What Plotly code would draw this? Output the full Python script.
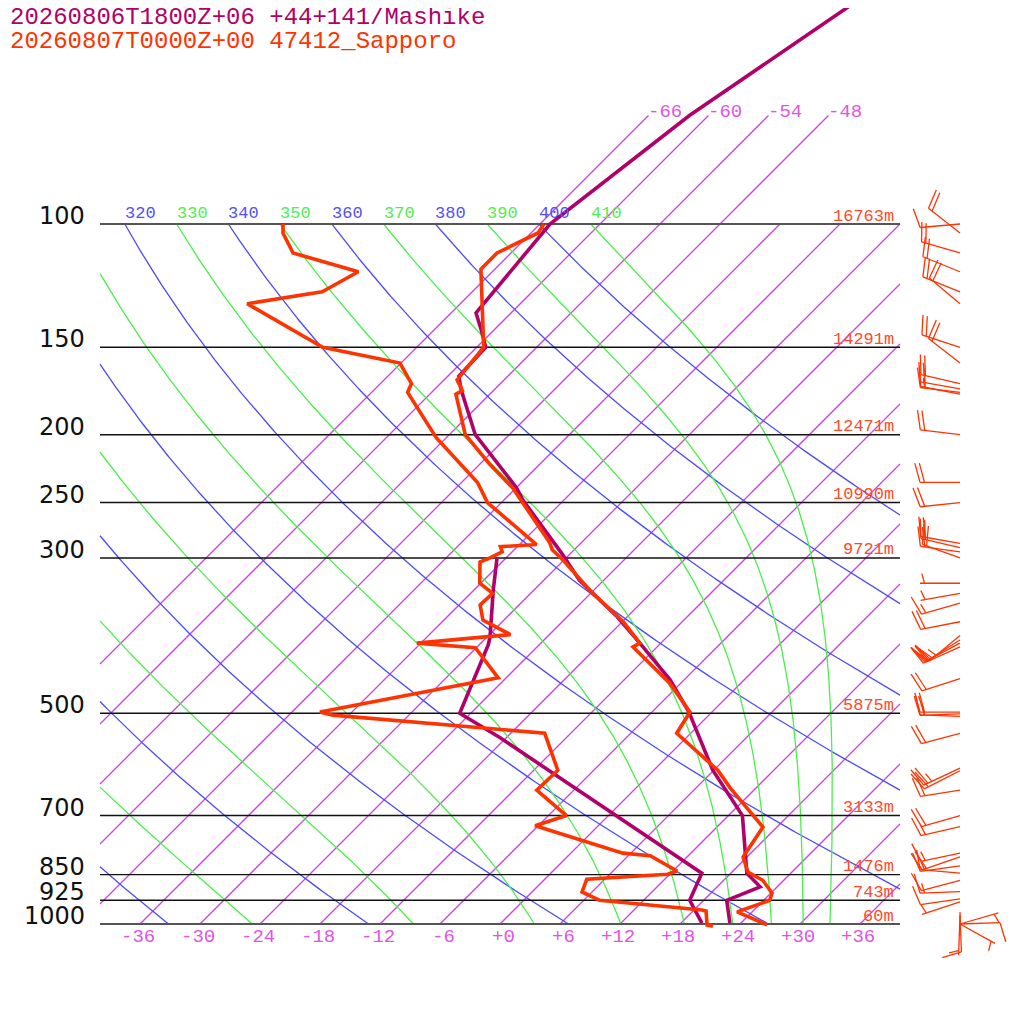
import numpy as np
import plotly.graph_objects as go

levels = [100, 150, 200, 250, 300, 500, 700, 850, 925, 1000]
level_labels = ["100", "150", "200", "250", "300", "500", "700", "850", "925", "1000"]
level_heights = ["16763m", "14291m", "12471m", "10990m", "9721m", "5875m", "3133m", "1476m", "743m", "60m"]

# Mashike forecast (+06)
mashike_p = [45, 70, 100, 134, 142, 150, 165, 173, 200, 238, 248, 296, 323, 337, 364, 397, 448, 498, 603, 700, 846, 885, 925, 997]
mashike_t = [-55.7, -61.9, -65.0, -63.5, -61.2, -59.1, -58.9, -57.2, -51.4, -42.0, -40.1, -30.8, -26.4, -23.8, -19.0, -14.1, -7.4, -2.3, 5.9, 13.4, 19.6, 22.3, 20.3, 22.9]
mashike_td_p = [300, 333, 389, 399, 500, 542, 846, 925, 997]
mashike_td = [-36.9, -34.1, -29.7, -29.1, -25.1, -18.6, 15.1, 16.6, 20.1]

# Sapporo 47412 observed
sapporo_p = [100, 103, 110, 116, 150, 167, 173, 175, 200, 220, 238, 250, 285, 292, 302, 337, 370, 397, 402, 453, 498, 534, 603, 639, 727, 802, 843, 866, 903, 925, 961, 1003]
sapporo_t = [-65.6, -65.3, -67.4, -67.4, -59.3, -58.7, -57.1, -57.4, -52.4, -47.1, -42.4, -39.9, -33.2, -32.2, -30.1, -23.8, -17.9, -14.1, -14.4, -7.1, -2.2, -1.4, 6.4, 9.4, 16.6, 17.6, 19.6, 21.9, 24.1, 24.6, 22.5, 26.8]
sapporo_td_p = [100, 103, 110, 117, 125, 130, 150, 158, 169, 174, 202, 234, 250, 287, 289, 294, 300, 304, 326, 337, 350, 368, 386, 397, 403, 445, 498, 503, 534, 603, 644, 700, 724, 792, 799, 840, 849, 863, 900, 925, 955, 958, 1003, 1007]
sapporo_td = [-91.7, -90.8, -87.8, -79.4, -81.0, -87.3, -75.4, -66.1, -62.9, -62.4, -55.0, -46.4, -43.4, -34.3, -37.7, -37.0, -37.6, -38.2, -36.1, -33.8, -33.9, -32.1, -27.9, -36.4, -30.1, -24.8, -39.2, -37.6, -14.6, -9.6, -9.7, -4.2, -6.3, 5.2, 8.2, 12.4, 11.8, 4.2, 5.0, 7.6, 18.8, 19.3, 20.8, 21.5]

# Sapporo winds (hPa, deg, kt)
wind_p = [100, 103, 110, 117, 125, 130, 150, 158, 169, 172, 174, 175, 200, 234, 250, 286, 290, 294, 300,
          326, 337, 348, 370, 387, 393, 397, 402, 446, 498, 501, 505, 534, 599, 604, 644, 700, 726,
          792, 802, 826, 846, 866, 899, 921, 930, 961, 971, 1000, 1000, 1000]
wind_dir = [265, 308, 286, 292, 292, 310, 288, 308, 283, 280, 277, 281, 277, 270, 264, 280, 283, 278, 290,
            270, 260, 254, 259, 230, 238, 242, 246, 252, 270, 268, 272, 255, 245, 243, 261, 254, 257,
            258, 251, 262, 275, 255, 268, 262, 252, 178, 182, 74, 88, 119]
wind_spd = [10, 20, 20, 20, 20, 20, 20, 20, 20, 20, 15, 20, 20, 20, 20, 20, 20, 20, 20,
            5, 5, 15, 20, 25, 20, 20, 20, 20, 20, 20, 15, 20, 25, 20, 20, 20, 15,
            15, 20, 15, 10, 10, 15, 10, 5, 10, 5, 5, 10, 5]

# diagram reference lines
isotherms = list(range(-66, 37, 6))
dry_thetas = list(range(240, 401, 20))
moist_thetas = list(range(250, 411, 20))

title1 = "20260806T1800Z+06 +44+141/Mashike"
title2 = "20260807T0000Z+00 47412_Sapporo"

MASHIKE = "#b0006a"
SAPPORO = "#ff3300"
ISO_COL = "#cc44e0"
DRY_COL = "#4a4aff"
MOIST_COL = "#48f048"
SKEW = 70.0          # deg C per decade of pressure (45 degree isotherms)
XMIN, XMAX = -40, 40
KAPPA = 0.286
OFF = 8              # page margin of the html body, in px


def skew_x(t, p):
    return np.asarray(t, float) + SKEW * np.log10(1000.0 / np.asarray(p, float))


def clip_poly(xs, ps, lo=XMIN, hi=XMAX):
    lp = np.log10(ps)
    ox, op = [], []
    last = None
    for i in range(len(xs) - 1):
        x0, x1, l0, l1 = xs[i], xs[i + 1], lp[i], lp[i + 1]
        t0, t1 = 0.0, 1.0
        dx = x1 - x0
        if dx == 0:
            if x0 < lo or x0 > hi:
                continue
        else:
            ta, tb = (lo - x0) / dx, (hi - x0) / dx
            t0, t1 = max(t0, min(ta, tb)), min(t1, max(ta, tb))
            if t0 >= t1:
                continue
        a = (float(x0 + t0 * dx), float(10 ** (l0 + t0 * (l1 - l0))))
        b = (float(x0 + t1 * dx), float(10 ** (l0 + t1 * (l1 - l0))))
        if last is None or abs(last[0] - a[0]) > 1e-9 or abs(last[1] - a[1]) > 1e-9:
            if ox:
                ox.append(None)
                op.append(None)
            ox.append(a[0])
            op.append(a[1])
        ox.append(b[0])
        op.append(b[1])
        last = b
    return ox, op


def moist_lapse(theta, p_levels):
    # integrate a pseudo-adiabat down from 100 hPa
    Rd, Cp, Lv, eps = 287.04, 1005.7, 2.501e6, 0.622

    def dtdp(p, T):
        es = 6.112 * np.exp(17.67 * (T - 273.15) / (T - 29.65))
        rs = eps * es / (p - es)
        return (Rd * T + Lv * rs) / (Cp + Lv * Lv * rs * eps / (Rd * T * T)) / p

    T = theta * (p_levels[0] / 1000.0) ** KAPPA
    out = [T]
    for p0, p1 in zip(p_levels[:-1], p_levels[1:]):
        h = p1 - p0
        k1 = dtdp(p0, T)
        k2 = dtdp(p0 + h / 2, T + h * k1 / 2)
        k3 = dtdp(p0 + h / 2, T + h * k2 / 2)
        k4 = dtdp(p1, T + h * k3)
        T = T + h * (k1 + 2 * k2 + 2 * k3 + k4) / 6
        out.append(T)
    return np.array(out) - 273.15


fig = go.Figure()

def add_line(xs, ps, color, width):
    fig.add_trace(go.Scatter(x=list(xs), y=list(ps), mode="lines", hoverinfo="skip",
                             line=dict(color=color, width=width)))

# isotherms
for t in isotherms:
    ptop = 70 if t <= -48 else 100
    pp = np.array([1000.0, ptop])
    xs, ps = clip_poly(skew_x([t, t], pp), pp)
    add_line(xs, ps, ISO_COL, 1.3)

# dry adiabats
pgrid = np.logspace(3, 2, 300)
for th in dry_thetas:
    tt = th * (pgrid / 1000.0) ** KAPPA - 273.15
    xs, ps = clip_poly(skew_x(tt, pgrid), pgrid)
    add_line(xs, ps, DRY_COL, 1.3)

# moist adiabats
pup = np.logspace(2, 3, 400)
for th in moist_thetas:
    tt = moist_lapse(th, pup)
    xs, ps = clip_poly(skew_x(tt, pup), pup)
    add_line(xs, ps, MOIST_COL, 1.3)

# pressure lines
for p in levels:
    col, w = ("#555555", 2.2) if p in (100, 1000) else ("#111111", 1.4)
    add_line([XMIN, XMAX], [p, p], col, w)

# profiles
add_line(skew_x(mashike_t, mashike_p), mashike_p, MASHIKE, 3.6)
add_line(skew_x(mashike_td, mashike_td_p), mashike_td_p, MASHIKE, 3.6)
add_line(skew_x(sapporo_t, sapporo_p), sapporo_p, SAPPORO, 3.6)
add_line(skew_x(sapporo_td, sapporo_td_p), sapporo_td_p, SAPPORO, 3.6)

# wind barbs, drawn in screen pixels from an anchor column
def to_py(p):
    return 924 - 700 * np.log10(1000.0 / p)

def from_px(px, py):
    return float((px - 500) / 10.0), float(1000.0 * 10 ** (-(924 - py) / 700.0))

bx_all, bp_all = [], []
ca, sa = np.cos(np.radians(75)), np.sin(np.radians(75))
for p, d, s in zip(wind_p, wind_dir, wind_spd):
    ax, ay = 960.0, to_py(p)
    ux, uy = np.sin(np.radians(d)), np.cos(np.radians(d))
    ex, ey = ax + 40 * ux, ay - 40 * uy
    segs = [((ax, ay), (ex, ey))]
    vx, vy = ux * ca + uy * sa, -ux * sa + uy * ca
    nfull, half = int(s // 10), (s % 10) >= 5
    pos = 4.5 if (nfull == 0 and half) else 0.0
    for i in range(nfull):
        b0 = (ex - pos * ux, ey + pos * uy)
        segs.append((b0, (b0[0] + 20 * vx, b0[1] - 20 * vy)))
        pos += 4.5
    if half:
        b0 = (ex - pos * ux, ey + pos * uy)
        segs.append((b0, (b0[0] + 10 * vx, b0[1] - 10 * vy)))
    for a, b in segs:
        xa, pa = from_px(*a)
        xb, pb = from_px(*b)
        bx_all += [xa, xb, None]
        bp_all += [pa, pb, None]
add_line(bx_all, bp_all, SAPPORO, 1.3)

# ---- text ----
MONO = "Liberation Mono"
ann = []
ann.append(dict(x=0, y=1 - (17 - OFF) / 1024, xref="paper", yref="paper", text=title1,
                xanchor="left", yanchor="middle", font=dict(family=MONO, size=24, color=MASHIKE)))
ann.append(dict(x=0, y=1 - (41 - OFF) / 1024, xref="paper", yref="paper", text=title2,
                xanchor="left", yanchor="middle", font=dict(family=MONO, size=24, color=SAPPORO)))

for p, lab, h in zip(levels, level_labels, level_heights):
    ann.append(dict(x=-41.3, y=np.log10(p), text=lab, xanchor="right", yanchor="middle", yshift=8,
                    font=dict(family="DejaVu Sans", size=24, color="#111111")))
    ann.append(dict(x=39.6, y=np.log10(p), text=h, xanchor="right", yanchor="middle", yshift=8,
                    font=dict(family=MONO, size=17, color="#ff4a2a")))

for t in isotherms:
    if -36 <= t <= 36:
        lab = "+%d" % t if t >= 0 else "%d" % t
        ann.append(dict(x=t, y=3, text=lab, xanchor="right", yanchor="middle", xshift=17, yshift=-13,
                        font=dict(family=MONO, size=19, color="#e055e0")))
    if t <= -48:
        ann.append(dict(x=float(skew_x(t, 70)), y=np.log10(70), text="%d" % t, xanchor="left",
                        yanchor="middle", xshift=-2, yshift=4,
                        font=dict(family=MONO, size=19, color="#e055e0")))

for thetas, col in ((dry_thetas, "#5050ff"), (moist_thetas, "#50ee50")):
    for th in thetas:
        x100 = float(skew_x(th * 0.1 ** KAPPA - 273.15, 100))
        if XMIN <= x100 <= XMAX:
            ann.append(dict(x=x100, y=2, text=str(th), xanchor="left", yanchor="middle", xshift=-2,
                            yshift=11, font=dict(family=MONO, size=17, color=col)))

for a in ann:
    a.setdefault("xref", "x")
    a.setdefault("yref", "y")
    a["showarrow"] = False

fig.update_layout(
    width=1024, height=1024,
    margin=dict(l=0, r=0, t=0, b=0),
    paper_bgcolor="white", plot_bgcolor="white",
    showlegend=False,
    annotations=ann,
    xaxis=dict(range=[(OFF - 500) / 10, (1024 + OFF - 500) / 10], visible=False, fixedrange=True),
    yaxis=dict(type="log", range=[3 + (1024 + OFF - 924) / 700, 3 - (924 - OFF) / 700],
               visible=False, fixedrange=True),
)

fig.write_html("out.html")
